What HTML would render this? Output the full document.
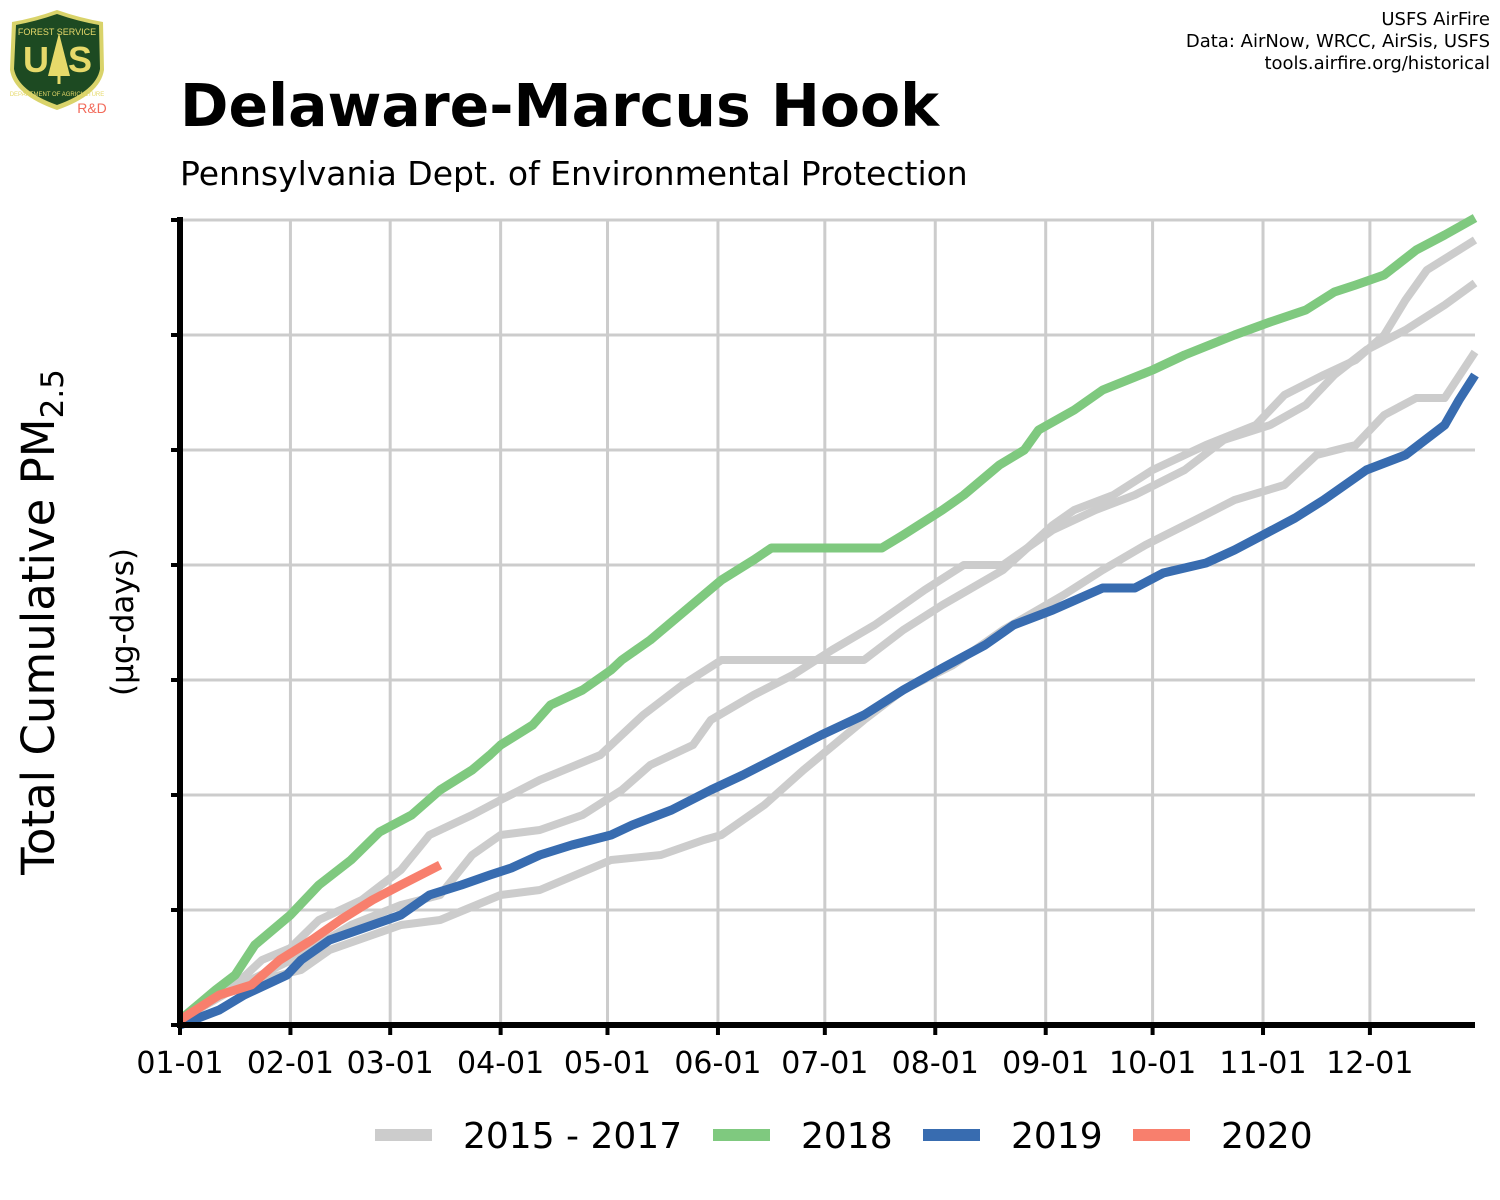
<!DOCTYPE html>
<html><head><meta charset="utf-8">
<style>
body{margin:0;background:#fff;font-family:"DejaVu Sans","Liberation Sans",sans-serif;}
#wrap{position:relative;width:1500px;height:1200px;overflow:hidden;}
</style></head>
<body>
<div id="wrap">
<svg id="chart" width="1500" height="1200" viewBox="0 0 1500 1200">
  <g>
    <path d="M12,22 Q35,18 57,10 Q80,18 103,22 L104,70 Q100,95 57,110 Q14,95 10,70 Z" fill="#d9d36a"/>
    <path d="M16,25 Q37,21 57,14 Q77,21 99,25 L100,69 Q96,91 57,105 Q18,91 14,69 Z" fill="#1d4a22"/>
    <text x="57" y="35" font-size="9" fill="#e6d96a" text-anchor="middle" font-family="Liberation Sans, sans-serif">FOREST SERVICE</text>
    <text x="36" y="72" font-size="36" font-weight="bold" fill="#e6d96a" text-anchor="middle" font-family="Liberation Sans, sans-serif">U</text>
    <text x="80" y="72" font-size="36" font-weight="bold" fill="#e6d96a" text-anchor="middle" font-family="Liberation Sans, sans-serif">S</text>
    <path d="M59,33 L48,76 L70,76 Z" fill="#e6d96a"/>
    <rect x="57.5" y="74" width="3" height="10" fill="#e6d96a"/>
    <text x="57" y="96" font-size="6" fill="#e6d96a" text-anchor="middle" font-family="Liberation Sans, sans-serif">DEPARTMENT OF AGRICULTURE</text>
    <text x="92" y="113" font-size="14" fill="#f26b5b" text-anchor="middle" font-family="Liberation Sans, sans-serif">R&amp;D</text>
  </g>
  <g font-size="18" text-anchor="end" fill="#000">
    <text x="1490" y="25">USFS AirFire</text>
    <text x="1490" y="47">Data: AirNow, WRCC, AirSis, USFS</text>
    <text x="1490" y="69">tools.airfire.org/historical</text>
  </g>
  <text x="180" y="126" font-size="58.4" font-weight="bold">Delaware-Marcus Hook</text>
  <text x="180" y="185" font-size="33">Pennsylvania Dept. of Environmental Protection</text>
  <text transform="translate(54,622) rotate(-90)" font-size="45" text-anchor="middle">Total Cumulative PM<tspan font-size="31" dy="9">2.5</tspan></text>
  <text transform="translate(133,622) rotate(-90)" font-size="31" text-anchor="middle">(µg-days)</text>
  <g id="grid"></g>
  <g id="series"></g>
  <g id="axes"></g>
  <g id="legend"></g>
</svg>
</div>
<script>
const monthLabels = ["01-01","02-01","03-01","04-01","05-01","06-01","07-01","08-01","09-01","10-01","11-01","12-01"];
const monthStartDays = [0,31,59,90,120,151,181,212,243,273,304,334];
const yTicks = [0,115,230,345,460,575,690,805];

const grayADays = [0,14,23,31,39,51,62,70,82,90,101,118,130,141,152,192,203,214,231,245,251,262,273,288,302,310,321,330,338,344,350,363.5];
const grayAVals = [5,35,65,77,105,125,155,190,210,225,245,270,310,340,365,365,395,420,455,500,515,530,555,580,600,630,650,665,690,725,755,785];
const grayBDays = [0,17,34,48,62,73,82,90,101,113,124,132,144,149,161,172,183,195,209,220,231,245,257,268,282,293,306,316,324,333,344,355,363.5];
const grayBVals = [5,40,70,100,120,130,170,190,195,210,235,260,280,305,330,350,375,400,435,460,460,495,515,530,555,585,600,620,650,675,695,720,742];
const grayCDays = [0,11,34,42,54,62,73,90,101,121,135,147,152,164,175,192,203,217,231,248,259,271,285,296,310,319,330,338,347,355,363.5];
const grayCVals = [5,35,55,75,90,100,105,130,135,165,170,185,190,220,255,305,335,360,395,430,455,480,505,525,540,570,580,610,627,627,673];
const y2018Days = [0,10,15.5,21,31,39,48,56,65,73,82,87,90,99,104,113,121,124,132,137,147,152,161,166,197,203,214,220,230,237,241,251,259,273,282,296,306,316,324,330,338,347,355,363.5];
const y2018Vals = [5,35,50,80,110,140,165,193,210,235,255,270,280,300,320,335,355,365,385,400,430,445,465,477,477,490,515,530,560,575,595,615,635,655,670,690,703,715,733,740,750,775,790,807];
const y2019Days = [0,11,18,30,34,42,54,62,70,79,87,93,101,110,121,127,138,149,158,169,180,192,203,214,226,234,245,259,268,276,288,296,304,313,321,333,344,355,359,363.5];
const y2019Vals = [0,15,30,50,65,85,100,110,130,140,150,157,170,180,190,200,215,235,250,270,290,310,335,357,380,400,415,437,437,452,462,475,490,507,525,555,570,600,625,650];
const y2020Days = [0,11,20,28,37,45,54,62,73];
const y2020Vals = [5,30,40,65,85,105,125,140,160];
const legendLabels = ["2015 - 2017","2018","2019","2020"];
const legendColors = ["#cccccc","#7fc97f","#386cb0","#f87f6d"];

const X0=180, X1=1475, Y0=1025, Y1=220;
const xScale = d => X0 + d*(X1-X0)/363.5;
const yScale = v => Y0 - v*(Y0-Y1)/805;
const NS="http://www.w3.org/2000/svg";
function mk(tag, parent, attrs){const e=document.createElementNS(NS,tag);for(const k in attrs)e.setAttribute(k,attrs[k]);parent.appendChild(e);return e;}

const grid=document.getElementById('grid');
yTicks.forEach(t=>{
  const l=mk('line',grid,{x1:X0,x2:X1,y1:yScale(t),y2:yScale(t),stroke:'#cccccc','stroke-width':3});
  
  
});
monthStartDays.forEach(d=>{
  const l=mk('line',grid,{x1:xScale(d),x2:xScale(d),y1:Y1,y2:Y0,stroke:'#cccccc','stroke-width':3});
  
  
});

const series=document.getElementById('series');
function drawLine(days, vals, color, w, name){
  const pts=days.map((d,i)=>xScale(d).toFixed(1)+','+yScale(vals[i]).toFixed(1)).join(' ');
  const p=mk('polyline',series,{points:pts,fill:'none',stroke:color,'stroke-width':w,'stroke-linejoin':'round','stroke-linecap':'butt'});
  
  
}
drawLine(grayCDays,grayCVals,'#cccccc',8,'line-gray-c');
drawLine(grayBDays,grayBVals,'#cccccc',8,'line-gray-b');
drawLine(grayADays,grayAVals,'#cccccc',8,'line-gray-a');
drawLine(y2018Days,y2018Vals,'#7fc97f',9,'line-2018');
drawLine(y2019Days,y2019Vals,'#386cb0',9,'line-2019');
drawLine(y2020Days,y2020Vals,'#f87f6d',9,'line-2020');

const axes=document.getElementById('axes');
let a=mk('line',axes,{x1:X0,x2:X0,y1:Y1-3,y2:Y0+3,stroke:'#000','stroke-width':6});


a=mk('line',axes,{x1:X0-3,x2:X1,y1:Y0,y2:Y0,stroke:'#000','stroke-width':6});


yTicks.forEach(t=>{
  const l=mk('line',axes,{x1:X0-9,x2:X0,y1:yScale(t),y2:yScale(t),stroke:'#000','stroke-width':4});
  
  
});
monthStartDays.forEach((d,i)=>{
  const l=mk('line',axes,{x1:xScale(d),x2:xScale(d),y1:Y0,y2:Y0+10,stroke:'#000','stroke-width':4});
  
  
  const t=mk('text',axes,{x:xScale(d),y:1073,'font-size':30,'text-anchor':'middle'});
  t.textContent=monthLabels[i];
  
  
});

const legend=document.getElementById('legend');
const legX=[375,713,923,1133];
legendLabels.forEach((lab,i)=>{
  const l=mk('line',legend,{x1:legX[i],x2:legX[i]+57,y1:1135,y2:1135,stroke:legendColors[i],'stroke-width':12});
  
  
  const t=mk('text',legend,{x:legX[i]+88,y:1148,'font-size':36});
  t.textContent=lab;
  
  
});
</script>
</body></html>
